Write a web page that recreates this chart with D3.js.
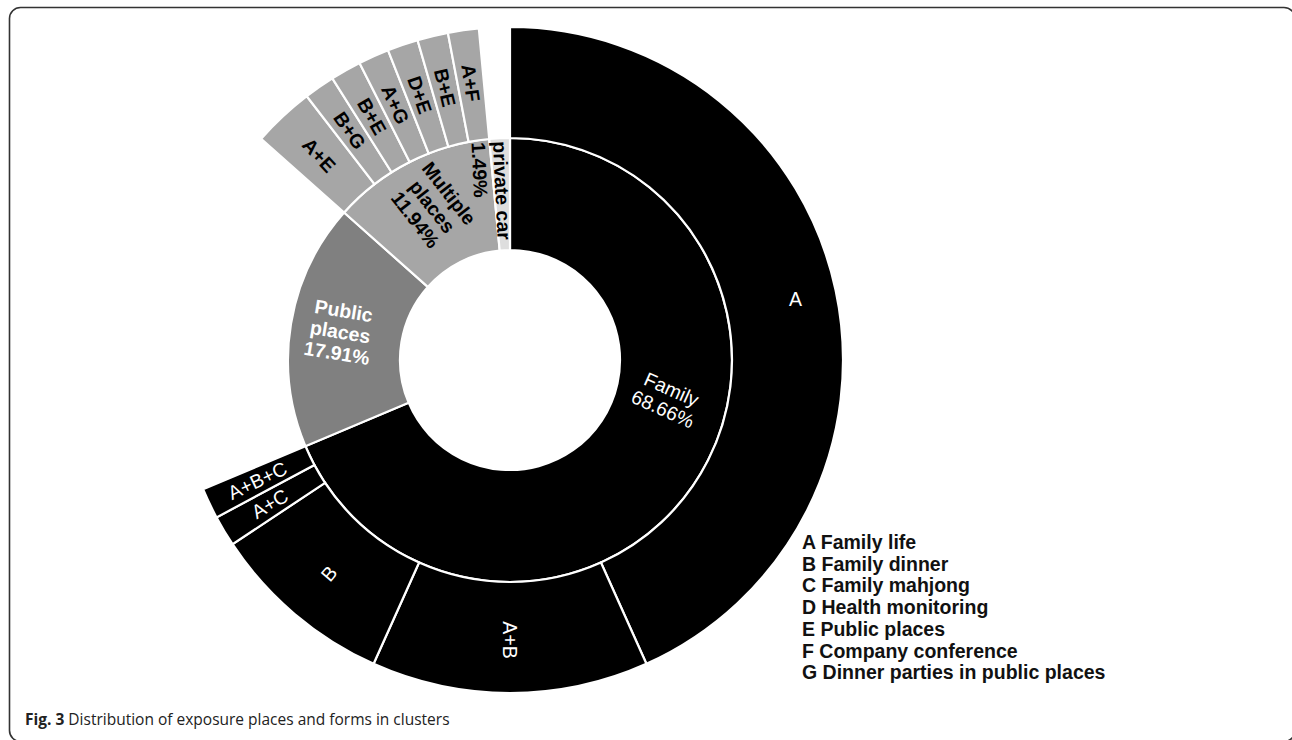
<!DOCTYPE html>
<html>
<head>
<meta charset="utf-8">
<script src="https://cdn.jsdelivr.net/npm/d3@7"></script>
<style>
body { margin: 0; background: #fff; }
svg text { font-family: "Liberation Sans", Arial, sans-serif; }
</style>
</head>
<body>
<svg id="chart" width="1292" height="740"></svg>
<script>
// inner ring: where the clusters were exposed
const groups = ['Family', 'Public places', 'Multiple places', 'private car'];
const groupCounts = [46, 12, 8, 1];
const groupPct = ['68.66%', '17.91%', '11.94%', '1.49%'];
const groupColors = ['#000000', '#808080', '#a6a6a6', '#dedede'];

// outer ring: forms of exposure inside each place
const forms = ['A', 'A+B', 'B', 'A+C', 'A+B+C', 'A+E', 'B+G', 'B+E', 'A+G', 'D+E', 'B+E', 'A+F'];
const formGroup = ['Family', 'Family', 'Family', 'Family', 'Family',
	'Multiple places', 'Multiple places', 'Multiple places', 'Multiple places',
	'Multiple places', 'Multiple places', 'Multiple places'];
const formCounts = [29, 9, 6, 1, 1, 2, 1, 1, 1, 1, 1, 1];

const legendItems = ['A Family life', 'B Family dinner', 'C Family mahjong', 'D Health monitoring',
	'E Public places', 'F Company conference', 'G Dinner parties in public places'];

const svg = d3.select('#chart');
const cx = 510, cy = 360;

//frame round the figure
svg.append('rect')
	.attr('x', 9.5).attr('y', 7.5)
	.attr('width', 1285.5).attr('height', 734)
	.attr('rx', 11)
	.style('fill', 'none')
	.style('stroke', '#333')
	.style('stroke-width', 1.6);

//build the hierarchy from the arrays
const tree = {
	name: 'root',
	children: groups.map(function(g, i){
		const kids = forms
			.map(function(f, j){ return {name: f, group: formGroup[j], value: formCounts[j]} })
			.filter(function(k){ return k.group === g });
		if(kids.length) return {name: g, pct: groupPct[i], children: kids};
		return {name: g, pct: groupPct[i], value: groupCounts[i]};
	})
};

const root = d3.hierarchy(tree).sum(function(d){ return d.children ? 0 : d.value });
d3.partition().size([2 * Math.PI, 3])(root);

const scaleR = d3.scaleLinear().domain([1, 2, 3]).range([110, 222, 333]);

const arc = d3.arc()
	.startAngle(function(d){ return d.x0 })
	.endAngle(function(d){ return d.x1 })
	.innerRadius(function(d){ return scaleR(d.y0) })
	.outerRadius(function(d){ return scaleR(d.y1) });

function groupOf(d){
	return d.depth === 1 ? d.data.name : d.parent.data.name;
}
function colorOf(d){
	return groupColors[groups.indexOf(groupOf(d))];
}
function textColor(d){
	const g = groupOf(d);
	return (g === 'Family' || g === 'Public places') ? '#fff' : '#000';
}

const plot = svg.append('g').attr('transform', `translate(${cx}, ${cy})`);
const nodes = root.descendants().filter(function(d){ return d.depth > 0 });

plot.selectAll('path.slice')
	.data(nodes)
	.enter()
	.append('path')
	.attr('class', 'slice')
	.attr('d', arc)
	.style('fill', colorOf)
	.style('stroke', '#fff')
	.style('stroke-width', 2.2);

//label placement, a few labels sit off their centroid in the original
const tweak = {
	'Family': {a: 104, r: 162, rot: 24},
	'Multiple places': {r: 172, rot: 52},
	'Public places': {r: 172},
	'private car': {r: 219, anchor: 'start'},
	'A': {r: 292, rot: 0}
};

nodes.forEach(function(d){
	const t = (d.depth === 1 ? tweak[d.data.name] : (d.data.name === 'A' ? tweak.A : null)) || {};
	const a = t.a !== undefined ? t.a : (d.x0 + d.x1) / 2 * 180 / Math.PI;
	const r = t.r !== undefined ? t.r : (d.depth === 1 ? 168 : 280);
	const rot = t.rot !== undefined ? t.rot : (a <= 180 ? a - 90 : a - 270);
	const rad = a * Math.PI / 180;
	const x = r * Math.sin(rad), y = -r * Math.cos(rad);

	let lines;
	if(d.depth === 1){
		lines = d.data.name === 'private car' ? [d.data.name] : d.data.name.split(' ');
		lines.push(d.data.pct);
	} else {
		lines = [d.data.name];
	}

	const bold = !(groupOf(d) === 'Family');
	const size = 19.5;
	const lh = 1.1;
	const anchor = t.anchor || 'middle';
	const first = anchor === 'start' ? 0.35 : 0.35 - (lines.length - 1) / 2 * lh;

	const text = plot.append('text')
		.attr('transform', `translate(${x}, ${y}) rotate(${rot})`)
		.attr('text-anchor', anchor)
		.style('font-size', size + 'px')
		.style('font-weight', bold ? 'bold' : 'normal')
		.style('fill', textColor(d));

	lines.forEach(function(l, i){
		text.append('tspan')
			.attr('x', 0)
			.attr('dy', (i === 0 ? first : lh) + 'em')
			.text(l);
	});
});

//legend
svg.append('g')
	.selectAll('text')
	.data(legendItems)
	.enter()
	.append('text')
	.attr('x', 802)
	.attr('y', function(d, i){ return 549 + i * 21.7 })
	.style('font-size', '19.5px')
	.style('font-weight', 'bold')
	.style('fill', '#111')
	.text(function(d){ return d });

//caption
const cap = svg.append('text')
	.attr('x', 25).attr('y', 725)
	.style('font-family', '"Open Sans", sans-serif')
	.style('font-size', '15.5px')
	.style('fill', '#222');
cap.append('tspan').style('font-weight', 'bold').text('Fig. 3');
cap.append('tspan').text(' Distribution of exposure places and forms in clusters');
</script>
</body>
</html>
